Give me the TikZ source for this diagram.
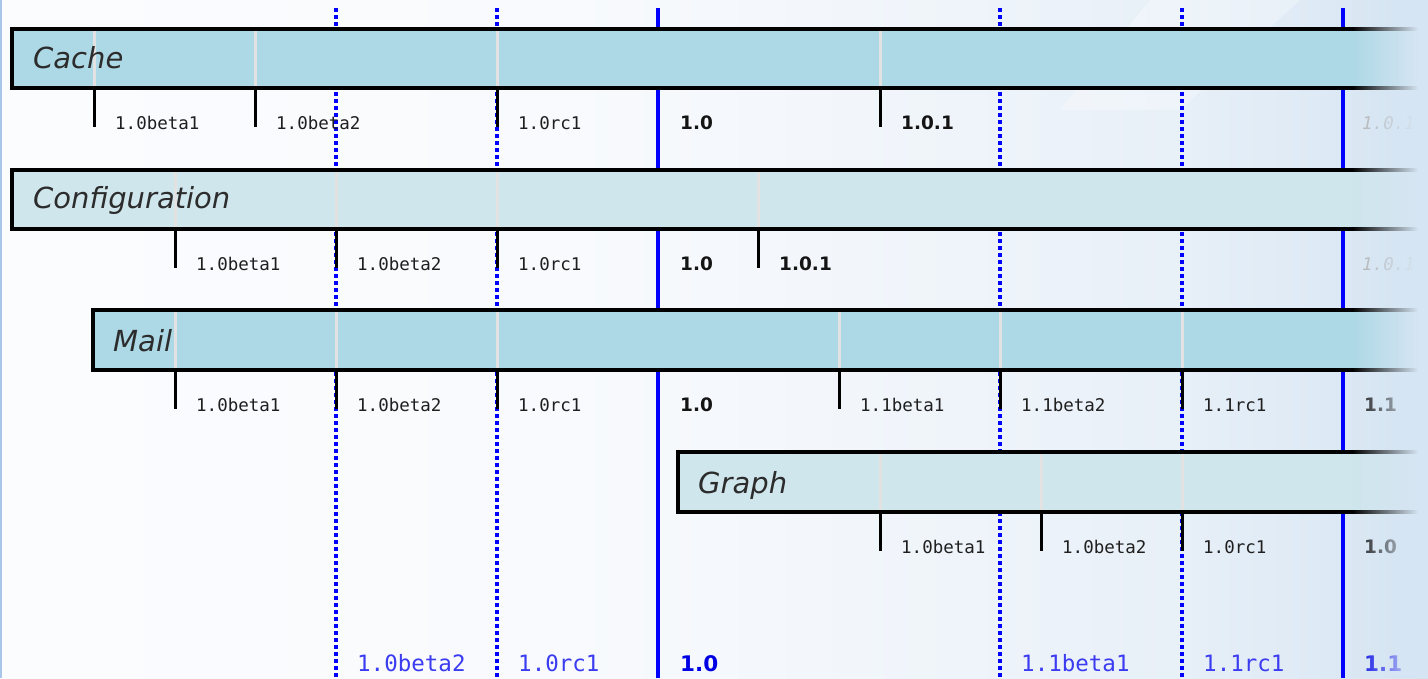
\documentclass[tikz,border=0pt]{standalone}
\usepackage{fontspec}
\setmainfont{DejaVu Sans}
\newfontfamily\monofont{DejaVu Sans Mono}
\usetikzlibrary{fadings}
\definecolor{barA}{HTML}{ADD8E6}
\definecolor{barB}{HTML}{CFE6EC}
\definecolor{bgA}{HTML}{FAFCFE}
\definecolor{bgB}{HTML}{F8FAFD}
\definecolor{bgC}{HTML}{F2F6FB}
\definecolor{bgD}{HTML}{E8F0F8}
\definecolor{bgR}{HTML}{D6E5F3}
\definecolor{relblue}{HTML}{0000FF}
\definecolor{labblue}{HTML}{3B3BF2}
\definecolor{namegray}{HTML}{2C2C2C}
\definecolor{tickgray}{HTML}{E2E2E2}
\definecolor{edgeblue}{HTML}{A9C6E8}
\pgfdeclarehorizontalshading{bgshade}{100bp}{
  color(0bp)=(bgA);
  color(25bp)=(bgA);
  color(45bp)=(bgB);
  color(55bp)=(bgC);
  color(66bp)=(bgD);
  color(75bp)=(bgR);
  color(100bp)=(bgR)}
\tikzfading[name=faderight, left color=transparent!100, right color=transparent!0]
\tikzset{
  barbox/.style={draw=none, inner sep=0pt, outer sep=0pt, anchor=north west},
  barline/.style={line width=3.5pt, black, line join=miter},
  barname/.style={font=\fontsize{29}{32}\selectfont\itshape, text=namegray, inner sep=0pt, anchor=base west},
  intick/.style={line width=3pt, tickgray},
  outtick/.style={line width=3pt, black},
  lbl/.style={font=\monofont\fontsize{17.5}{20}\selectfont, text=black!88, inner sep=0pt, anchor=base west},
  blbl/.style={font=\bfseries\fontsize{18.5}{20}\selectfont, text=black!92, inner sep=0pt, anchor=base west},
  flbl/.style={font=\monofont\itshape\fontsize{17.5}{20}\selectfont, text=black!30, inner sep=0pt, anchor=base west},
  rdot/.style={line width=3.5pt, relblue, dash pattern=on 4pt off 3pt},
  rsolid/.style={line width=4.5pt, relblue},
  rlbl/.style={font=\monofont\fontsize{22.5}{26}\selectfont, text=labblue, inner sep=0pt, anchor=base west},
  rblbl/.style={font=\bfseries\fontsize{21.5}{26}\selectfont, text=relblue!90!black, inner sep=0pt, anchor=base west},
}
% #1 row name, #2 top y, #3 bottom y, #4 list x/label/style
\newcommand\rowticks[4]{%
  \foreach \tx/\tl/\ts in {#4} {
    \coordinate (#1top\tx) at (\tx,#2);
    \coordinate (#1bot\tx) at (\tx,#3);
    \coordinate (#1end\tx) at (\tx,#3+39);
    \draw[intick] (#1top\tx) -- (#1bot\tx);
    \draw[outtick] (#1bot\tx) -- (#1end\tx);
    \node[\ts] (#1lab\tx) at (\tx+21,#3+41) {\tl};
  }%
}
\newcommand\rowlabels[3]{%
  \foreach \tx/\tl/\ts in {#3} {
    \node[\ts] (#1xl\tx) at (\tx,#2) {\tl};
  }%
}
\begin{document}
\begin{tikzpicture}[x=1pt,y=-1pt]
\useasboundingbox (0,0) rectangle (1428,678);
% background
\shade[shading=bgshade] (0,0) rectangle (1428,678);
\fill[white, opacity=0.3] (1150,0) -- (1300,0) -- (1180,110) -- (1060,110) -- cycle;
\fill[edgeblue] (0,0) rectangle (2,678);

% release lines
\foreach \rx/\rs in {336/rdot, 497/rdot, 658/rsolid, 1000/rdot, 1182/rdot, 1343/rsolid} {
  \coordinate (rt\rx) at (\rx,8);
  \coordinate (rb\rx) at (\rx,678);
  \draw[\rs] (rt\rx) -- (rb\rx);
}

% bars
\node[barbox, fill=barA, minimum width=1416pt, minimum height=59pt] (cache) at (12,29) {};
\node[barbox, fill=barB, minimum width=1416pt, minimum height=59pt] (config) at (12,170) {};
\node[barbox, fill=barA, minimum width=1335pt, minimum height=60pt] (mail) at (93,310) {};
\node[barbox, fill=barB, minimum width=750pt, minimum height=60pt] (graph) at (678,452) {};

% ticks and labels
\rowticks{c}{29}{88}{94/1.0beta1/lbl, 255/1.0beta2/lbl, 497/1.0rc1/lbl, 880/1.0.1/blbl}
\rowlabels{c}{129}{680/1.0/blbl, 1362/1.0.1/flbl}
\rowticks{f}{170}{229}{175/1.0beta1/lbl, 336/1.0beta2/lbl, 497/1.0rc1/lbl, 758/1.0.1/blbl}
\rowlabels{f}{270}{680/1.0/blbl, 1362/1.0.1/flbl}
\rowticks{m}{310}{370}{175/1.0beta1/lbl, 336/1.0beta2/lbl, 497/1.0rc1/lbl, 839/1.1beta1/lbl, 1000/1.1beta2/lbl, 1182/1.1rc1/lbl}
\rowlabels{m}{411}{680/1.0/blbl, 1364/1.1/blbl}
\rowticks{g}{452}{512}{880/1.0beta1/lbl, 1041/1.0beta2/lbl, 1182/1.0rc1/lbl}
\rowlabels{g}{553}{1364/1.0/blbl}

% bar borders
\foreach \b in {cache, config, mail, graph} {
  \draw[barline] (\b.north east) -- (\b.north west) -- (\b.south west) -- (\b.south east);
}

% bar names
\node[barname] (cacheN) at (33,68) {Cache};
\node[barname] (configN) at (33,208) {Configuration};
\node[barname] (mailN) at (113,351) {Mail};
\node[barname] (graphN) at (698,493) {Graph};

% bottom release labels
\node[rlbl] (b1) at (357,671) {1.0beta2};
\node[rlbl] (b2) at (518,671) {1.0rc1};
\node[rblbl] (b3) at (680,671) {1.0};
\node[rlbl] (b4) at (1021,671) {1.1beta1};
\node[rlbl] (b5) at (1203,671) {1.1rc1};
\node[rblbl] (b6) at (1364,671) {1.1};

% right-hand fade
\fill[bgR, path fading=faderight] (1352,0) rectangle (1418,678);
\fill[bgR] (1417.5,0) rectangle (1428,678);
\end{tikzpicture}
\end{document}
